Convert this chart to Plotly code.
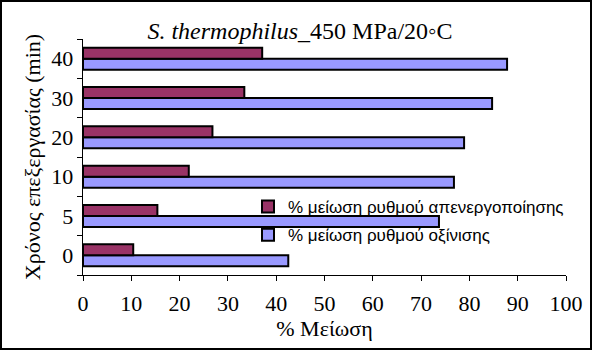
import plotly.graph_objects as go

categories = ["0", "5", "10", "20", "30", "40"]
inactivation = [10.4, 15.4, 21.9, 26.8, 33.4, 37.1]
acidification = [42.5, 73.7, 76.8, 78.9, 84.7, 87.8]
name_inact = "% μείωση ρυθμού απενεργοποίησης"
name_acid = "% μείωση ρυθμού οξίνισης"
x_ticks = list(range(0, 101, 10))

serif = "Liberation Serif, Times New Roman, serif"
sans = "Liberation Sans, Arial, sans-serif"

fig = go.Figure()
fig.add_trace(go.Bar(
    y=categories, x=acidification, orientation="h", name=name_acid,
    marker=dict(color="#9999FF", line=dict(color="black", width=2)),
    legendgroup="b", legendrank=2,
))
fig.add_trace(go.Bar(
    y=categories, x=inactivation, orientation="h", name=name_inact,
    marker=dict(color="#993366", line=dict(color="black", width=2)),
    legendgroup="a", legendrank=1,
))

W, H = 596, 351
L, R, T, B = 83, 30, 39, 76
pw, ph = W - L - R, H - T - B

def px(xp):
    return (xp - L) / pw

def py(yp):
    return (H - B - yp) / ph

fig.update_layout(
    width=W, height=H,
    margin=dict(l=L, r=R, t=T, b=B),
    paper_bgcolor="white", plot_bgcolor="white",
    barmode="group", bargap=0.44, bargroupgap=0,
    title=dict(
        text="<i>S. thermophilus</i>_450 MPa/20◦C",
        font=dict(family=serif, size=24, color="black"),
        x=px(300), xref="paper", xanchor="center",
        y=1 - 31 / H, yref="container", yanchor="middle",
    ),
    xaxis=dict(
        range=[0, 100], tickvals=x_ticks, ticks="outside", ticklen=5,
        tickcolor="black", showline=True, linecolor="black", linewidth=1,
        showgrid=False, zeroline=False,
        tickfont=dict(family=serif, size=22, color="black"),
        ticklabelstandoff=4,
        title=dict(text="% Μείωση", font=dict(family=serif, size=22, color="black"), standoff=5),
    ),
    yaxis=dict(
        type="category", categoryorder="array", categoryarray=categories,
        ticks="outside", ticklen=5, tickson="boundaries", tickcolor="black",
        showline=True, linecolor="black", linewidth=1, showgrid=False,
        tickfont=dict(family=serif, size=22, color="black"),
        ticksuffix="\u2009",
        title=dict(text="Χρόνος επεξεργασίας (min)", font=dict(family=serif, size=22, color="black"), standoff=4),
    ),
    legend=dict(
        x=px(248), y=py(189), xanchor="left", yanchor="top",
        bgcolor="rgba(0,0,0,0)", font=dict(family=sans, size=17, color="black"),
        tracegroupgap=3, itemwidth=30,
    ),
    shapes=[dict(
        type="rect", xref="paper", yref="paper",
        x0=px(1), x1=px(591), y0=py(349), y1=py(1),
        line=dict(color="black", width=2), fillcolor="rgba(0,0,0,0)", layer="below",
    )],
)

fig.write_html("out.html")
